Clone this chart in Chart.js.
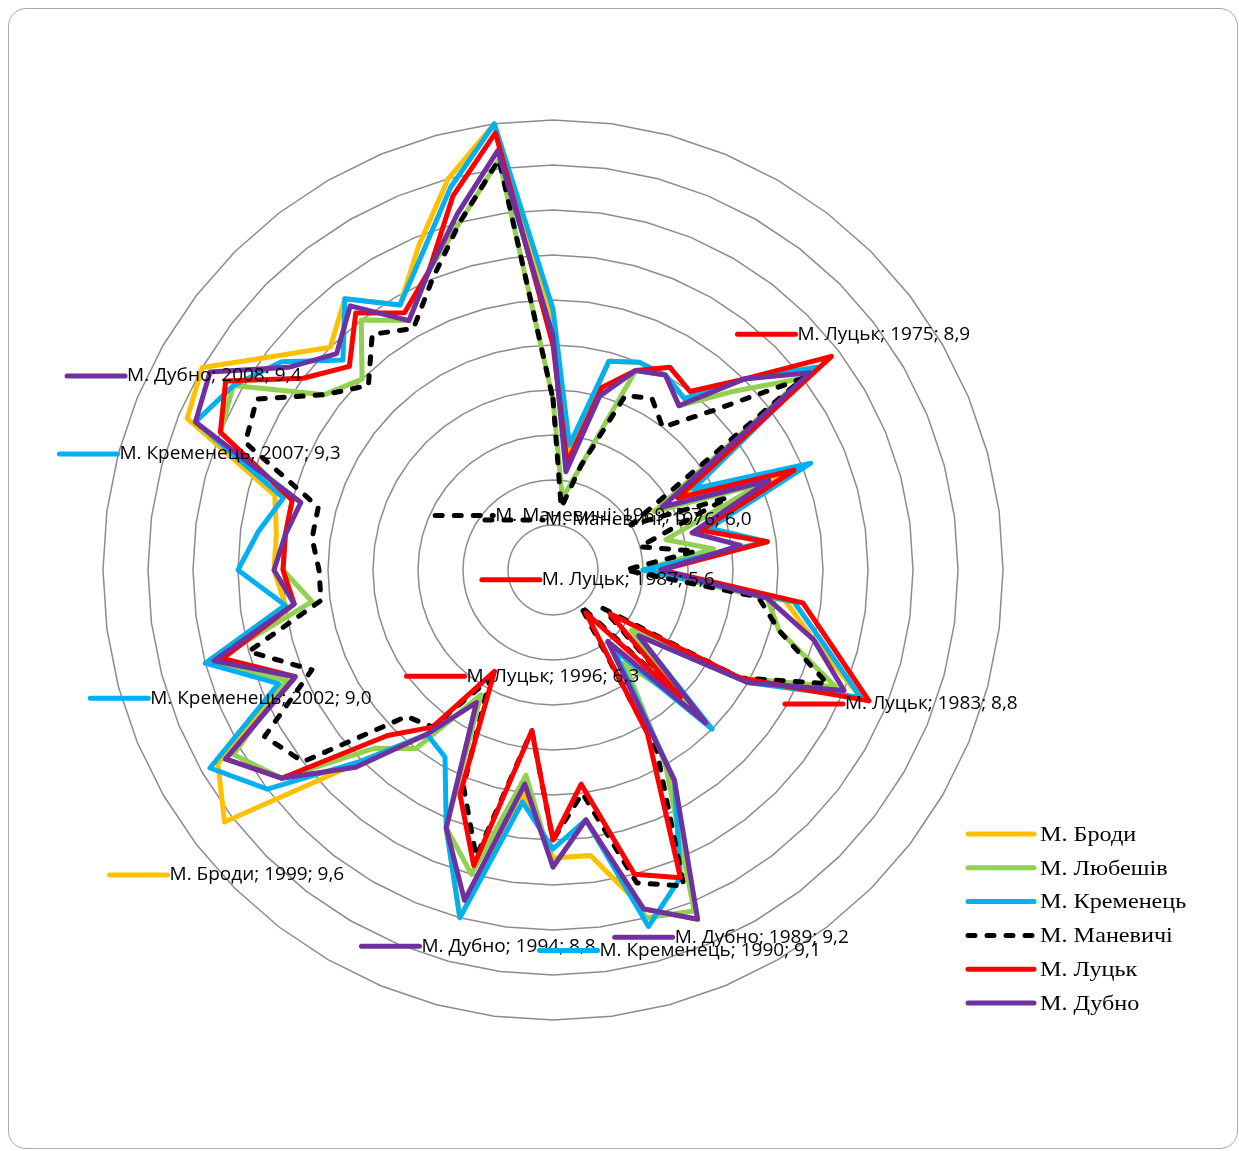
<!DOCTYPE html>
<html lang="uk">
<head>
<meta charset="utf-8">
<title>Середньорічна температура повітря</title>
<script src="https://cdn.jsdelivr.net/npm/chart.js@4/dist/chart.umd.min.js"></script>
<style>
  html, body { margin: 0; padding: 0; background: #ffffff; }
  #wrap { position: relative; width: 1239px; height: 1151px; overflow: hidden; }
  #frame {
    position: absolute; left: 8px; top: 8px; width: 1230px; height: 1141px;
    border: 1px solid #a9a9a9; border-radius: 18px; box-sizing: border-box;
  }
  #c { position: absolute; left: 0; top: 0; }
</style>
</head>
<body>
<div id="wrap">
  <div id="frame"></div>
  <canvas id="c" width="1239" height="1151"></canvas>
</div>
<script>
// Years on the radial axis (first one points straight up, clockwise)
const years = [];
for (let y = 1968; y <= 2015; y++) years.push(y);

// Annual values per station
const brody = [7.8, 6.3, 7.4, 7.5, 7.5, 7.4, 8.0, 8.7, 6.7, 7.8, 6.7, 7.4, 6.1, 7.6, 8.0, 8.7,
               7.5, 6.2, 7.3, 6.1, 7.6, 9.2, 8.9, 8.2, 8.2, 7.5, 9.0, 8.1, 6.7, 7.3, 8.0, 9.6,
               9.3, 8.2, 9.0, 8.0, 8.1, 8.1, 8.2, 9.4, 9.5, 8.9, 8.5, 8.8, 8.4, 8.9, 9.5, 10.0];
const lyubeshiv = [6.9, 5.8, 6.2, 7.4, 7.5, 7.3, 7.8, 8.5, 6.3, 7.5, 6.3, 6.8, 6.0, 7.4, 7.6, 8.4,
                   7.4, 6.1, 7.1, 6.3, 7.5, 9.1, 9.0, 7.8, 8.3, 7.3, 8.5, 8.1, 6.6, 7.5, 7.8, 8.8,
                   9.1, 8.2, 8.9, 7.7, 8.0, 8.0, 8.0, 9.0, 9.1, 8.2, 8.0, 8.5, 8.2, 8.6, 9.0, 9.6];
const kremenets = [7.9, 6.4, 7.4, 7.5, 7.5, 7.4, 8.0, 8.7, 6.8, 8.1, 6.8, 7.4, 6.0, 7.7, 8.1, 8.7,
                   7.5, 6.2, 7.5, 6.1, 7.7, 8.7, 9.1, 7.8, 8.1, 7.6, 9.0, 8.1, 7.4, 7.3, 8.0, 9.0,
                   9.4, 8.3, 9.0, 8.0, 8.5, 8.3, 8.1, 9.3, 9.1, 8.8, 8.3, 8.8, 8.4, 8.8, 9.4, 10.0];
const manevychi = [6.9, 5.7, 6.2, 7.1, 7.2, 7.0, 7.5, 8.5, 6.0, 7.1, 6.0, 6.6, 5.8, 7.3, 7.6, 8.3,
                   7.4, 5.7, 7.0, 5.5, 7.3, 8.8, 8.6, 7.5, 8.0, 6.8, 8.3, 7.6, 6.4, 7.2, 7.3, 8.5,
                   8.7, 7.9, 8.5, 7.6, 7.6, 7.7, 7.7, 8.7, 8.8, 8.2, 7.9, 8.3, 8.1, 8.5, 9.0, 9.6];
const lutsk = [7.5, 6.2, 7.1, 7.4, 7.6, 7.5, 8.0, 8.9, 6.6, 7.9, 6.7, 7.4, 6.2, 7.8, 8.2, 8.8,
               7.4, 5.8, 7.0, 5.6, 7.1, 8.7, 8.5, 7.4, 8.0, 6.8, 8.4, 7.7, 6.3, 7.2, 7.6, 8.8,
               9.2, 8.1, 8.8, 7.9, 8.0, 8.0, 8.0, 9.0, 9.2, 8.5, 8.2, 8.6, 8.3, 8.6, 9.3, 9.9];
const dubno = [7.6, 6.1, 7.0, 7.4, 7.5, 7.3, 8.0, 8.6, 6.4, 7.6, 6.6, 7.1, 6.2, 7.4, 8.0, 8.5,
               7.5, 6.2, 7.4, 6.0, 7.7, 9.2, 8.9, 7.8, 8.3, 7.4, 8.8, 8.1, 6.7, 7.3, 8.1, 8.8,
               9.2, 8.1, 8.9, 7.9, 8.1, 8.0, 7.9, 9.3, 9.4, 8.7, 8.4, 8.7, 8.2, 8.6, 9.1, 9.7];

// Radial axis range
const scaleMin = 5, scaleMax = 10, scaleStep = 0.5;

// Series definitions (legend order)
const stations = [
  { label: 'М. Броди',     data: brody,     color: '#FFC000', dash: [] },
  { label: 'М. Любешів',   data: lyubeshiv, color: '#92D050', dash: [] },
  { label: 'М. Кременець', data: kremenets, color: '#00B0F0', dash: [] },
  { label: 'М. Маневичі',  data: manevychi, color: '#000000', dash: [7, 12] },
  { label: 'М. Луцьк',     data: lutsk,     color: '#FF0000', dash: [] },
  { label: 'М. Дубно',     data: dubno,     color: '#7030A0', dash: [] }
];

// Points that carry a value callout: station, year, text offset from the point
const callouts = [
  { series: 'М. Луцьк',     year: 1975, dx: -34,  dy: -22 },
  { series: 'М. Дубно',     year: 2008, dx: -83,  dy: 4 },
  { series: 'М. Кременець', year: 2007, dx: -76,  dy: 32 },
  { series: 'М. Маневичі',  year: 1969, dx: -66,  dy: 8 },
  { series: 'М. Маневичі',  year: 1976, dx: -86,  dy: -5 },
  { series: 'М. Луцьк',     year: 1987, dx: -44,  dy: -33 },
  { series: 'М. Луцьк',     year: 1983, dx: -24,  dy: 3 },
  { series: 'М. Кременець', year: 2002, dx: -55,  dy: 35 },
  { series: 'М. Луцьк',     year: 1996, dx: -28,  dy: 5 },
  { series: 'М. Броди',     year: 1999, dx: -55,  dy: 53 },
  { series: 'М. Дубно',     year: 1994, dx: -43,  dy: 46 },
  { series: 'М. Кременець', year: 1990, dx: -49,  dy: 24 },
  { series: 'М. Дубно',     year: 1989, dx: -23,  dy: 18 }
];

const LINE_W = 5;

function fmt(v) { return v.toFixed(1).replace('.', ','); }

// Value callouts with a legend-key stroke in front of the text
const calloutPlugin = {
  id: 'callouts',
  afterDatasetsDraw(chart) {
    const ctx = chart.ctx;
    const r = chart.scales.r;
    ctx.save();
    ctx.font = '19px "Open Sans"';
    ctx.textBaseline = 'middle';
    ctx.textAlign = 'left';
    callouts.forEach(c => {
      const ds = chart.data.datasets.find(d => d.label === c.series);
      const i = years.indexOf(c.year);
      const v = ds.data[i];
      const p = r.getPointPositionForValue(i, v);
      const tx = p.x + c.dx, ty = p.y + c.dy;
      ctx.save();
      ctx.strokeStyle = ds.borderColor;
      ctx.lineWidth = LINE_W;
      ctx.lineCap = 'round';
      ctx.setLineDash(ds.borderDash || []);
      ctx.beginPath();
      ctx.moveTo(tx - 60, ty);
      ctx.lineTo(tx - 2, ty);
      ctx.stroke();
      ctx.restore();
      ctx.fillStyle = '#000000';
      ctx.fillText(`${c.series}; ${c.year}; ${fmt(v)}`, tx, ty);
    });
    ctx.restore();
  }
};

// Legend in the lower right corner
const legendPlugin = {
  id: 'sideLegend',
  afterDraw(chart) {
    const ctx = chart.ctx;
    const x0 = 968, y0 = 834, rowH = 33.8, keyLen = 66, textGap = 6, stretch = 1.1;
    ctx.save();
    ctx.font = '22px "Liberation Serif"';
    ctx.textBaseline = 'middle';
    chart.data.datasets.forEach((ds, k) => {
      const y = y0 + k * rowH;
      ctx.save();
      ctx.strokeStyle = ds.borderColor;
      ctx.lineWidth = LINE_W;
      ctx.lineCap = 'round';
      ctx.setLineDash(ds.borderDash || []);
      ctx.beginPath();
      ctx.moveTo(x0, y);
      ctx.lineTo(x0 + keyLen, y);
      ctx.stroke();
      ctx.restore();
      ctx.save();
      ctx.translate(x0 + keyLen + textGap, y + 1);
      ctx.scale(stretch, 1);
      ctx.fillStyle = '#000000';
      ctx.fillText(ds.label, 0, 0);
      ctx.restore();
    });
    ctx.restore();
  }
};

const datasets = stations.map((s, k) => ({
  label: s.label,
  data: s.data,
  borderColor: s.color,
  backgroundColor: s.color,
  borderWidth: LINE_W,
  borderDash: s.dash,
  borderCapStyle: 'round',
  borderJoinStyle: 'round',
  pointRadius: 0,
  pointHoverRadius: 0,
  fill: false,
  tension: 0,
  clip: false,
  order: stations.length - 1 - k
}));

new Chart(document.getElementById('c'), {
  type: 'radar',
  data: { labels: years, datasets },
  options: {
    responsive: false,
    animation: false,
    devicePixelRatio: 1,
    layout: { padding: { left: 103, top: 120, right: 236, bottom: 131 } },
    plugins: {
      legend: { display: false },
      tooltip: { enabled: false }
    },
    scales: {
      r: {
        min: scaleMin,
        max: scaleMax,
        ticks: { display: false, stepSize: scaleStep },
        pointLabels: { display: false },
        angleLines: { display: false },
        grid: { color: '#8c8c8c', lineWidth: 1.5 }
      }
    }
  },
  plugins: [calloutPlugin, legendPlugin]
});
</script>
</body>
</html>
